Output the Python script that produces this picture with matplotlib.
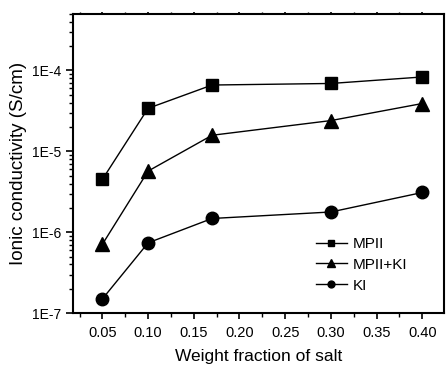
import math
import matplotlib
matplotlib.use("Agg")
import matplotlib.pyplot as plt
from matplotlib.ticker import FuncFormatter, LogLocator, MultipleLocator

plt.rcParams['font.family'] = ['Liberation Sans', 'DejaVu Sans']

x = [0.05, 0.10, 0.17, 0.30, 0.40]
mpii = [4.5e-6, 3.4e-5, 6.6e-5, 6.9e-5, 8.3e-5]
mpii_ki = [7.1e-7, 5.7e-6, 1.58e-5, 2.4e-5, 3.9e-5]
ki = [1.5e-7, 7.4e-7, 1.48e-6, 1.78e-6, 3.1e-6]
labels = ['MPII', 'MPII+KI', 'KI']

fig = plt.figure(figsize=(4.46, 3.65), dpi=100)
ax = fig.add_axes([0.164, 0.142, 0.832, 0.820])

ax.plot(x, mpii, 'k-s', lw=1, ms=9, label=labels[0])
ax.plot(x, mpii_ki, 'k-^', lw=1, ms=10, label=labels[1])
ax.plot(x, ki, 'k-o', lw=1, ms=9, label=labels[2])

ax.set_yscale('log')
ax.set_ylim(1e-7, 5e-4)
ax.set_xlim(0.018, 0.424)
ax.xaxis.set_major_locator(MultipleLocator(0.05))
ax.xaxis.set_minor_locator(MultipleLocator(0.025))
ax.xaxis.set_major_formatter(FuncFormatter(lambda v, p: f"{v:.2f}"))
ax.yaxis.set_major_locator(LogLocator(base=10, numticks=10))
ax.yaxis.set_minor_locator(LogLocator(base=10, subs=range(2, 10), numticks=20))
ax.yaxis.set_major_formatter(FuncFormatter(lambda v, p: f"1E{int(round(math.log10(v)))}"))
ax.yaxis.set_minor_formatter(FuncFormatter(lambda v, p: ""))

ax.tick_params(axis='both', which='major', direction='out', length=5, width=1.2, labelsize=10)
ax.tick_params(axis='both', which='minor', direction='out', length=3, width=1)
ax.tick_params(axis='x', which='both', top=True)
ax.tick_params(axis='x', which='major', length=4, labelsize=10.5)
ax.tick_params(axis='x', which='both', pad=5)
for t in ax.xaxis.get_ticklines(minor=False)[1::2] + ax.xaxis.get_ticklines(minor=True)[1::2]:
    t.set_markersize(1.5)
    t.set_color('0.6')
for s in ax.spines.values():
    s.set_linewidth(1.5)

ax.set_xlabel('Weight fraction of salt', fontsize=12.5, labelpad=7)
ax.set_ylabel('Ionic conductivity (S/cm)', fontsize=13.5, labelpad=4)

ax.legend(loc='upper left', bbox_to_anchor=(0.655, 0.255), frameon=False, fontsize=11,
          markerscale=0.55, handlelength=2.0, handletextpad=0.4, labelspacing=0.45,
          borderpad=0, borderaxespad=0)

fig.savefig('out.png', dpi=100)
